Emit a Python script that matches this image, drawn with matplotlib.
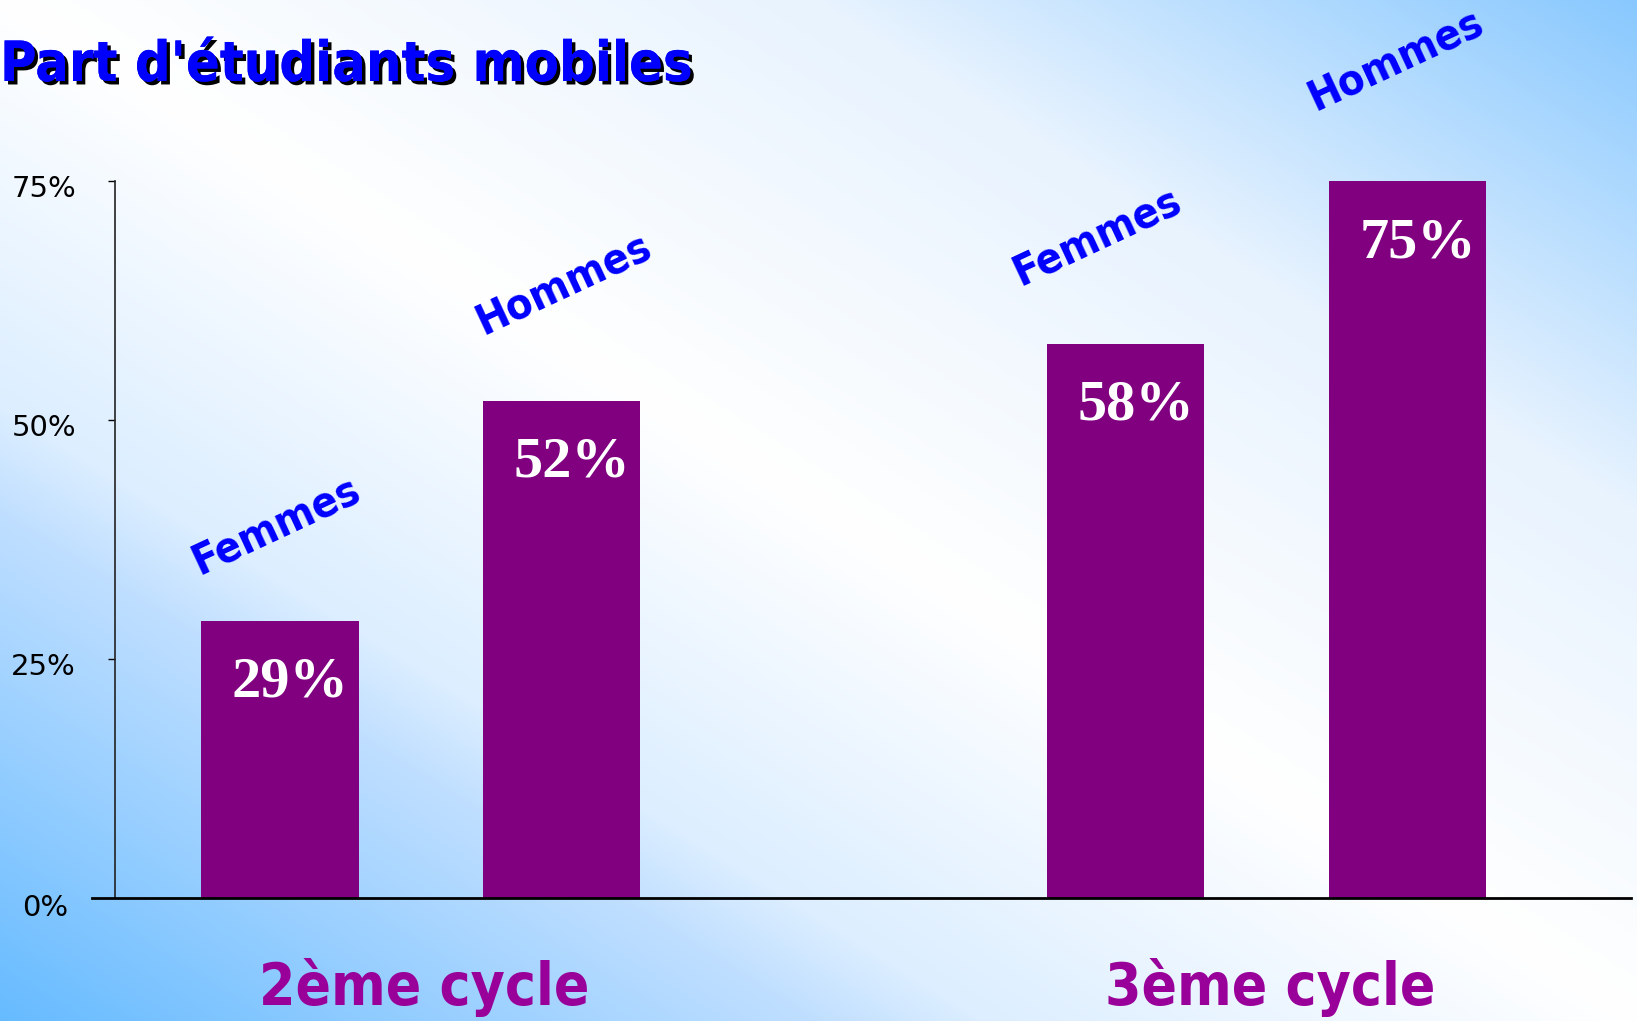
"""
Part d'étudiants mobiles — bar chart, women vs men, 2ème / 3ème cycle.
Output: out.png (1637 x 1021 px)
"""

import matplotlib.pyplot as plt
import matplotlib.patheffects as pe
from matplotlib.colors import to_rgb
from matplotlib.transforms import ScaledTranslation
import numpy as np

# =============================================================================
# Data
# =============================================================================
cycles = ['2ème cycle', '3ème cycle']
sexes = ['Femmes', 'Hommes']
share_2eme = [29, 52]          # % mobile students, 2ème cycle (F, H)
share_3eme = [58, 75]          # % mobile students, 3ème cycle (F, H)
ytick_values = [25, 50, 75]

TITLE = "Part d'étudiants mobiles"

# =============================================================================
# Style
# =============================================================================
BAR_COLOR = '#800080'
SEX_COLOR = '#0000FF'
CYCLE_COLOR = '#990099'
FIG_W, FIG_H, DPI = 1637, 1021, 100

comic = dict(family='DejaVu Sans', fontweight='bold', fontstretch='condensed')

# hand-placed offsets (px) of the rotated sex labels from each bar top
sex_label_offsets = [(-4, 95), (2, 117), (-29, 107), (-12, 121)]


def background(ax):
    """Diagonal two-sided blue/white gradient like the slide background."""
    u = np.linspace(0, 1, FIG_W)
    v = np.linspace(0, 1, FIG_H)
    t = u[None, :] - v[:, None]
    low_stops = [0, 0.4, 0.5, 1.0]
    low_cols = [to_rgb(c) for c in ('#FFFFFF', '#DCEEFF', '#C0DFFF', '#66BBFF')]
    up_stops = [0, 0.5, 1.0]
    up_cols = [to_rgb(c) for c in ('#FFFFFF', '#E8F3FE', '#88C8FF')]
    img = np.ones((FIG_H, FIG_W, 3))
    for ch in range(3):
        lo = np.interp(-t, low_stops, [c[ch] for c in low_cols])
        up = np.interp(t, up_stops, [c[ch] for c in up_cols])
        img[:, :, ch] = np.where(t < 0, lo, up)
    ax.imshow(img, aspect='auto', interpolation='bilinear')
    ax.axis('off')


fig = plt.figure(figsize=(FIG_W / DPI, FIG_H / DPI), dpi=DPI)
bg = fig.add_axes([0, 0, 1, 1], zorder=0)
background(bg)

# axes: y-axis at x=115px, 0% at y=898px, 75% at y=181px, right end 1631px
ax = fig.add_axes([115 / FIG_W, 1 - 898 / FIG_H,
                   (1631 - 115) / FIG_W, (898 - 181) / FIG_H], zorder=1)
ax.patch.set_alpha(0)

values = share_2eme + share_3eme
labels = sexes * len(cycles)
positions = [g * 3 + i for g in range(len(cycles)) for i in range(len(sexes))]

ax.bar(positions, values, width=0.557, color=BAR_COLOR, zorder=2)

ax.set_xlim(-0.585, 4.791)
ax.set_ylim(0, 75)

# spines / axis
for side in ('top', 'right', 'bottom'):
    ax.spines[side].set_visible(False)
ax.spines['left'].set_color('#222222')
ax.spines['left'].set_linewidth(1.2)
ax.set_xticks([])
ax.set_yticks(ytick_values)
ax.set_yticklabels([f'{v}%' for v in ytick_values])
ax.tick_params(axis='y', direction='out', length=5, width=1, pad=23,
               labelsize=21, colors='black')
# labels sit a touch below their ticks in the original
shift = ScaledTranslation(0, -5 / DPI, fig.dpi_scale_trans)
for lbl in ax.get_yticklabels():
    lbl.set_transform(lbl.get_transform() + shift)

# baseline runs a bit past the y axis on the left
ax.plot([-0.0152, 1], [0, 0], transform=ax.get_yaxis_transform(),
        color='black', lw=2, clip_on=False, zorder=3)
ax.annotate('0%', xy=(0, 0), xycoords=ax.get_yaxis_transform(),
            xytext=(-47, -10), textcoords='offset pixels',
            ha='right', va='center', fontsize=21, color='black')

# value labels inside bars
for x, v in zip(positions, values):
    ax.annotate(f'{v}%', xy=(x, v), xytext=(10, -62), textcoords='offset pixels',
                ha='center', va='center', color='white', fontsize=42,
                fontweight='bold', family='Liberation Serif', zorder=4)

# rotated sex labels above bars
for x, v, lab, (dx, dy) in zip(positions, values, labels, sex_label_offsets):
    ax.annotate(lab, xy=(x, v), xytext=(dx, dy), textcoords='offset pixels',
                ha='center', va='center', rotation=25, rotation_mode='anchor',
                color=SEX_COLOR, fontsize=31, annotation_clip=False, **comic)

# cycle labels under each group
for g, name in enumerate(cycles):
    center = np.mean(positions[g * len(sexes):(g + 1) * len(sexes)])
    ax.annotate(name, xy=(center, 0), xytext=(3, -89), textcoords='offset pixels',
                ha='center', va='center', color=CYCLE_COLOR, fontsize=42,
                annotation_clip=False, **comic)

# title with drop shadow
fig.text(0, 1 - 81 / FIG_H, TITLE, ha='left', va='baseline',
         color=SEX_COLOR, fontsize=40, **comic,
         path_effects=[pe.withSimplePatchShadow(offset=(2.5, -2.5),
                                                shadow_rgbFace='black', alpha=1),
                       pe.Normal()])

fig.savefig('out.png', dpi=DPI)
